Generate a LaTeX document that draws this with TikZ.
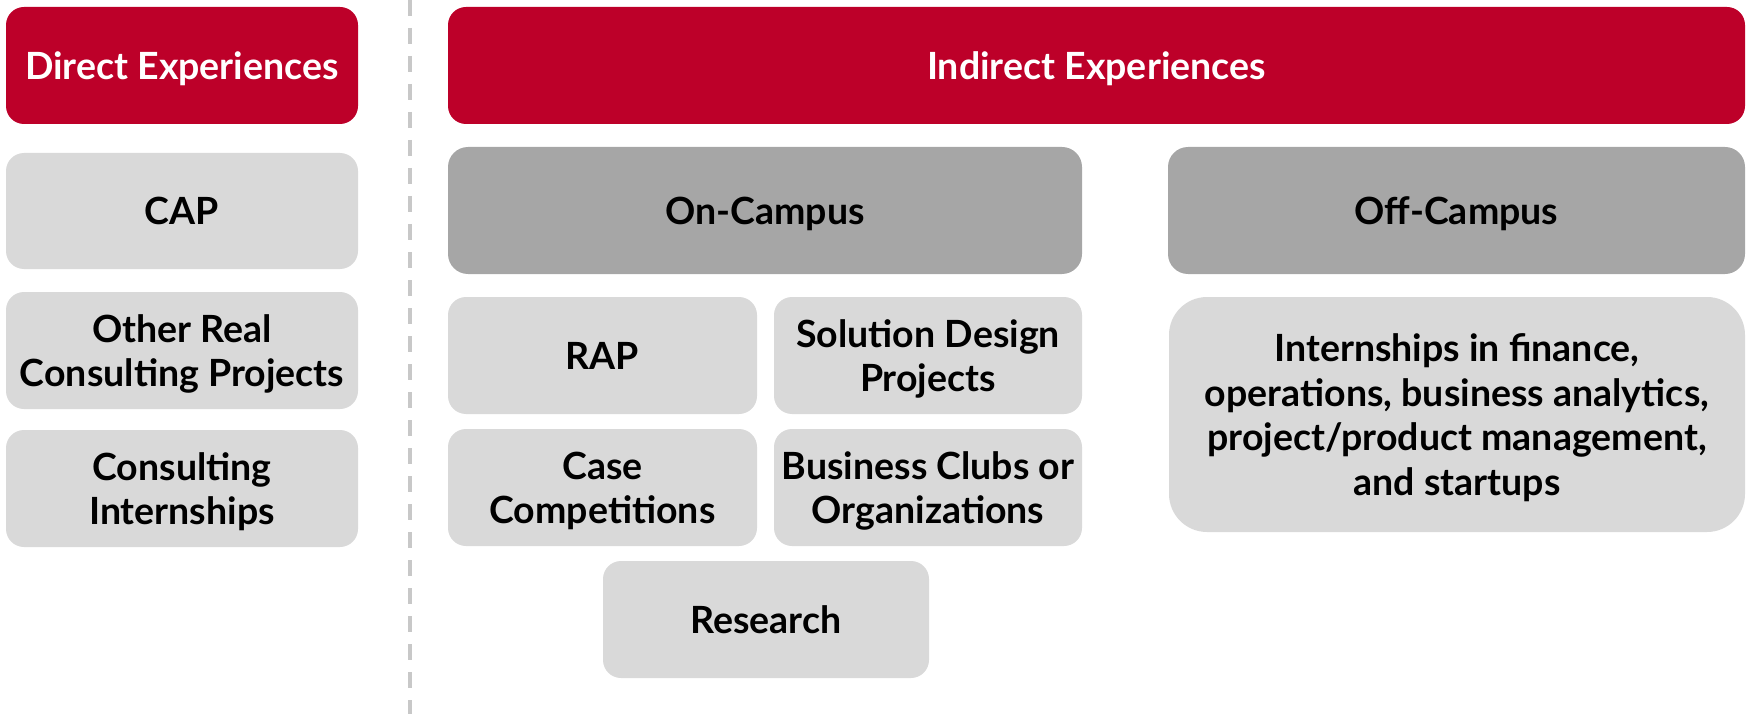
\documentclass[tikz,border=0pt]{standalone}
\usepackage{fontspec}
\setmainfont{Lato}
\definecolor{hdrred}{RGB}{189,0,41}
\definecolor{midgrey}{RGB}{166,166,166}
\definecolor{lightgrey}{RGB}{217,217,217}
\definecolor{dashgrey}{RGB}{200,200,200}
\newcommand\boxtext[1]{\raisebox{-5pt}[\height][\depth]{\begin{tabular}{@{}c@{}}#1\end{tabular}}}
\tikzset{
  box/.style={rectangle, rounded corners=18pt, inner sep=0pt,
    font=\fontsize{37.5}{44.5}\selectfont\bfseries},
  redbox/.style={box, fill=hdrred, text=white},
  midbox/.style={box, fill=midgrey, text=black, rounded corners=20pt},
  lightbox/.style={box, fill=lightgrey, text=black},
}
\begin{document}
\begin{tikzpicture}[x=1pt,y=-1pt]
\useasboundingbox (0,0) rectangle (1748,714);
% divider
\coordinate (dtop) at (410,0);
\coordinate (dbot) at (410,714);
\draw[dashgrey, line width=4pt, dash pattern=on 16pt off 12pt] (dtop) -- (dbot);
% left column
\node[redbox, minimum width=352pt, minimum height=117pt] (direct) at (182,65.5) {\boxtext{Direct Experiences}};
\node[lightbox, minimum width=352pt, minimum height=116pt] (cap) at (182,211) {\boxtext{CAP}};
\node[lightbox, minimum width=352pt, minimum height=117pt] (other) at (182,350.5) {\boxtext{Other Real\\Consulting Projects}};
\node[lightbox, minimum width=352pt, minimum height=117pt] (consint) at (182,488.5) {\boxtext{Consulting\\Internships}};
% right side
\node[redbox, minimum width=1297pt, minimum height=117pt] (indirect) at (1096.5,65.5) {\boxtext{Indirect Experiences}};
\node[midbox, minimum width=634pt, minimum height=127pt] (oncampus) at (765,210.5) {\boxtext{On-Campus}};
\node[midbox, minimum width=577pt, minimum height=127pt] (offcampus) at (1456.5,210.5) {\boxtext{Off-Campus}};
\node[lightbox, minimum width=309pt, minimum height=117pt] (rap) at (602.5,355.5) {\boxtext{RAP}};
\node[lightbox, minimum width=308pt, minimum height=117pt] (sdp) at (928,355.5) {\boxtext{Solution Design\\Projects}};
\node[lightbox, minimum width=309pt, minimum height=117pt] (case) at (602.5,487.5) {\boxtext{Case\\Competitions}};
\node[lightbox, minimum width=308pt, minimum height=117pt] (clubs) at (928,487.5) {\boxtext{Business Clubs or\\Organizations}};
\node[lightbox, minimum width=326pt, minimum height=117pt] (research) at (766,619.5) {\boxtext{Research}};
\node[lightbox, rounded corners=38pt, minimum width=576pt, minimum height=235pt] (intern) at (1457,414.5) {\boxtext{Internships in finance,\\operations, business analytics,\\project/product management,\\and startups}};
\end{tikzpicture}
\end{document}
